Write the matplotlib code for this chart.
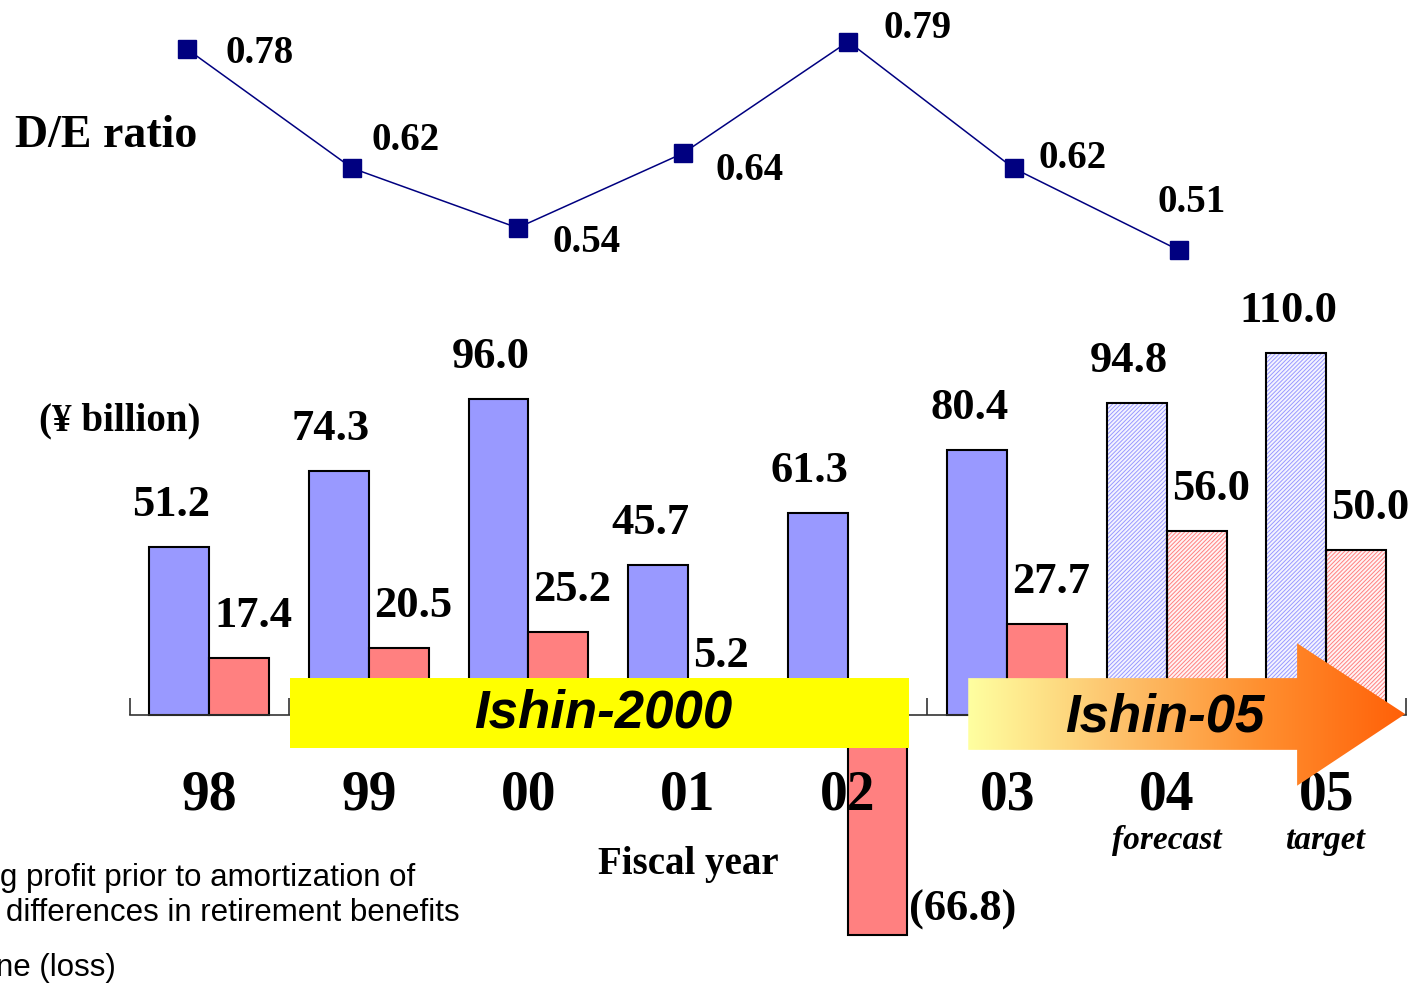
import numpy as np
import matplotlib.pyplot as plt
from matplotlib.patches import Rectangle, Polygon
from matplotlib.colors import LinearSegmentedColormap

# fiscal years and results (¥ billion)
years = ["98", "99", "00", "01", "02", "03", "04", "05"]
year_notes = ["", "", "", "", "", "", "forecast", "target"]
op_profit = [51.2, 74.3, 96.0, 45.7, 61.3, 80.4, 94.8, 110.0]
net_income = [17.4, 20.5, 25.2, 5.2, -66.8, 27.7, 56.0, 50.0]
n_actual = 6  # last two years are plan figures

# debt / equity ratio, FY98 - FY04
de_ratio = [0.78, 0.62, 0.54, 0.64, 0.79, 0.62, 0.51]
# label offsets (pixels) next to each D/E marker
de_offsets = [(39, -4), (19, 28), (35, -15), (33, -17), (35, 13), (25, 10), (-21, 48)]

legend_lines = ["g profit prior to amortization of",
                "differences in retirement benefits",
                "ne (loss)"]

BLUE = "#9999FF"
RED = "#FF8080"
NAVY = "#000080"
SERIF = "Liberation Serif"
SANS = "Liberation Sans"

W, H = 1415, 985
fig = plt.figure(figsize=(W / 100, H / 100), dpi=100)
plt.rcParams["hatch.linewidth"] = 0.7


def px_axes(left, top, right, bottom):
    return fig.add_axes([left / W, 1 - bottom / H, (right - left) / W, (bottom - top) / H])


# ---- bar chart ----
ax = px_axes(129.5, 303.75, 1406.1, 940.0)
x = np.arange(len(years))
w = 0.375
op = np.array(op_profit)
ni = np.array(net_income)

ax.bar(x[:n_actual] - w / 2, op[:n_actual], w, color=BLUE, edgecolor="black", linewidth=1.5, zorder=2)
ax.bar(x[:n_actual] + w / 2, ni[:n_actual], w, color=RED, edgecolor="black", linewidth=1.5, zorder=2)
# plan years: hatched fill, then a black outline on top
ax.bar(x[n_actual:] - w / 2, op[n_actual:], w, facecolor="#F4F4FF", edgecolor=BLUE,
       hatch="////////", linewidth=0, zorder=2)
ax.bar(x[n_actual:] + w / 2, ni[n_actual:], w, facecolor="#FFF4F4", edgecolor=RED,
       hatch="////////", linewidth=0, zorder=2)
ax.bar(x[n_actual:] - w / 2, op[n_actual:], w, fill=False, edgecolor="black", linewidth=1.5, zorder=2.1)
ax.bar(x[n_actual:] + w / 2, ni[n_actual:], w, fill=False, edgecolor="black", linewidth=1.5, zorder=2.1)

for xi, v in zip(x, op):
    ax.annotate(f"{v:.1f}", (xi - w / 2, v), xytext=(-8, 42), textcoords="offset pixels",
                ha="center", va="center", fontsize=32, fontweight="bold", family=SERIF, zorder=5)
for xi, v in zip(x, ni):
    if v >= 0:
        ax.annotate(f"{v:.1f}", (xi, v), xytext=(5, 42), textcoords="offset pixels",
                    ha="left", va="center", fontsize=32, fontweight="bold", family=SERIF, zorder=5)
    else:
        ax.annotate(f"({-v:.1f})", (xi + w, v), xytext=(2, 25), textcoords="offset pixels",
                    ha="left", va="center", fontsize=32, fontweight="bold", family=SERIF, zorder=5)

for s in ["top", "left", "right"]:
    ax.spines[s].set_visible(False)
ax.spines["bottom"].set_position(("data", 0))
ax.spines["bottom"].set_linewidth(1.2)
ax.spines["bottom"].set_color("#333333")
ax.set_xticks(np.arange(-0.5, len(years), 1))
ax.tick_params(axis="x", direction="in", length=12, width=1.2, color="#333333", labelbottom=False)
ax.set_yticks([])

for xi, yr, note in zip(x, years, year_notes):
    ax.text(xi, -24.6, yr, ha="center", va="center", fontsize=40, fontweight="bold",
            family=SERIF, zorder=3)
    if note:
        ax.text(xi, -38.2, note, ha="center", va="center", fontsize=24, fontweight="bold",
                style="italic", family=SERIF, zorder=3)
ax.text(3.0, -45.5, "Fiscal year", ha="center", va="center", fontsize=28, fontweight="bold",
        family=SERIF)

# Ishin-2000 banner
ax.add_patch(Rectangle((0.507, -10.0), 4.386 - 0.507, 21.2, facecolor="#FFFF00",
                       edgecolor="none", zorder=3, clip_on=False))
ax.text(2.468, 0.3, "Ishin-2000", ha="center", va="center", fontsize=38, fontweight="bold",
        style="italic", family=SANS, zorder=4)

# Ishin-05 gradient arrow
x0, xh, xt = 4.756, 6.817, 7.494
yb, yt, hb, ht, tip = -10.6, 11.2, -21.5, 21.8, 0.3
arrow = Polygon([(x0, yb), (xh, yb), (xh, hb), (xt, tip), (xh, ht), (xh, yt), (x0, yt)],
                closed=True, facecolor="none", edgecolor="none", zorder=4)
ax.add_patch(arrow)
cmap = LinearSegmentedColormap.from_list("ishin", ["#FFFFA0", "#FDC46E", "#FF9030", "#FF6008"])
grad = np.linspace(0, 1, 256).reshape(1, -1)
im = ax.imshow(grad, cmap=cmap, extent=[x0, xt, hb, ht], aspect="auto", zorder=4)
im.set_clip_path(arrow)
ax.text(5.99, -0.9, "Ishin-05", ha="center", va="center", fontsize=38, fontweight="bold",
        style="italic", family=SANS, zorder=5)

ax.set_xlim(-0.5, 7.5)
ax.set_ylim(-68.4, 125)

# ---- D/E ratio line ----
ax2 = px_axes(104.3, 4.3, 1261.6, 294.9)
xd = np.arange(len(de_ratio))
ax2.plot(xd, de_ratio, color=NAVY, linewidth=1.1, marker="s", markersize=12.5,
         markerfacecolor=NAVY, markeredgecolor=NAVY, clip_on=False)
for xi, v, (dx, dy) in zip(xd, de_ratio, de_offsets):
    ax2.annotate(f"{v:.2f}", (xi, v), xytext=(dx, dy), textcoords="offset pixels",
                 ha="left", va="center", fontsize=28, fontweight="bold", family=SERIF)
ax2.set_xlim(-0.5, 6.5)
ax2.set_ylim(0.45, 0.84)
ax2.axis("off")

fig.text(106 / W, 1 - 136 / H, "D/E ratio", ha="center", va="center", fontsize=33,
         fontweight="bold", family=SERIF)
fig.text(120 / W, 1 - 421 / H, "(¥ billion)", ha="center", va="center", fontsize=28,
         fontweight="bold", family=SERIF)

# legend text, running off the left edge
for txt, xr, yc in zip(legend_lines, [415, 460, 116], [878, 913, 968]):
    fig.text(xr / W, 1 - yc / H, txt, ha="right", va="center", fontsize=22.5, family=SANS)

fig.savefig("out.png", dpi=100)
